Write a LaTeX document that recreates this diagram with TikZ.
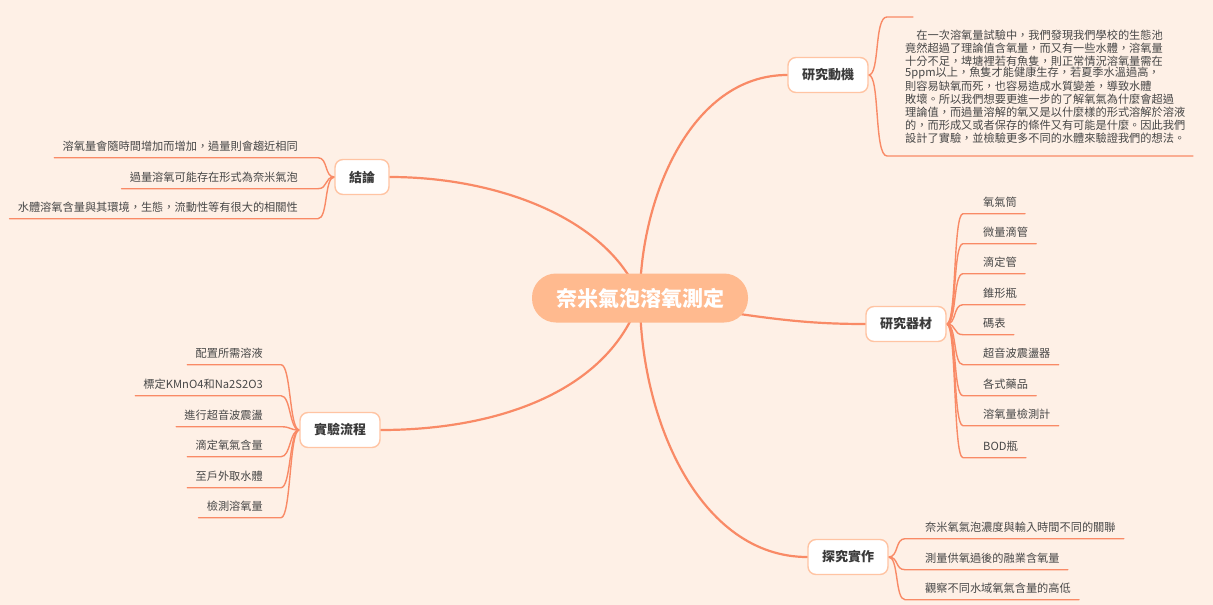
\documentclass[tikz,border=0pt]{standalone}
\usepackage{fontspec}
\setmainfont{Noto Sans CJK TC}
\usetikzlibrary{calc}
\definecolor{bgc}{HTML}{FEF0E6}
\definecolor{linec}{HTML}{F98A66}
\definecolor{borderc}{HTML}{FFC4A3}
\definecolor{rootc}{HTML}{FFBA8F}
\definecolor{txtc}{HTML}{3A3A3A}
\definecolor{leafc}{HTML}{474747}
\pgfdeclarelayer{bg}
\pgfdeclarelayer{edges}
\pgfsetlayers{bg,edges,main}
\tikzset{
  rootnode/.style={fill=rootc, rounded corners=24pt, minimum width=216pt, minimum height=49pt,
    text=white, font=\fontsize{21}{24}\selectfont\bfseries, inner sep=0pt},
  branchnode/.style={fill=white, draw=borderc, line width=1.4pt, rounded corners=8pt,
    minimum height=35pt, inner xsep=14pt, inner ysep=0pt, text=txtc,
    font=\fontsize{13}{15}\selectfont\bfseries},
  leaf/.style={text=leafc, font=\fontsize{11.2}{13}\selectfont, inner xsep=8pt, inner ysep=0pt,
    minimum height=23pt},
  para/.style={text=leafc, font=\fontsize{11.2}{13}\selectfont, inner sep=0pt},
  mainline/.style={draw=linec, line width=2.2pt, line cap=round},
  twig/.style={draw=linec, line width=1.4pt, line cap=round},
}
\begin{document}
\begin{tikzpicture}[x=1pt,y=-1pt]
\begin{pgfonlayer}{bg}
\fill[bgc] (0,0) rectangle (1213,605);
\end{pgfonlayer}
\useasboundingbox (0,0) rectangle (1213,605);

% root and branches
\node[rootnode] (root) at (640,298) {奈米氣泡溶氧測定};
\node[branchnode] (mot) at (828,75) {研究動機};
\node[branchnode] (mat) at (906,324) {研究器材};
\node[branchnode] (inq) at (848,557) {探究實作};
\node[branchnode] (con) at (362,177) {結論};
\node[branchnode] (exp) at (340,430) {實驗流程};

\begin{pgfonlayer}{edges}
\draw[mainline] (root.center) .. controls (640,200) and (690,75) .. (mot.west);
\draw[mainline] (root.center) .. controls (760,318) and (800,324) .. (mat.west);
\draw[mainline] (root.center) .. controls (640,420) and (700,557) .. (inq.west);
\draw[mainline] (root.center) .. controls (610,220) and (500,177) .. (con.east);
\draw[mainline] (root.center) .. controls (610,390) and (500,430) .. (exp.east);
\end{pgfonlayer}

% motivation paragraph
\node[para, anchor=west] (p1) at (905,35) {　在一次溶氧量試驗中，我們發現我們學校的生態池};
\node[para, anchor=west] (p2) at (905,48) {竟然超過了理論值含氧量，而又有一些水體，溶氧量};
\node[para, anchor=west] (p3) at (905,61) {十分不足，埤塘裡若有魚隻，則正常情況溶氧量需在};
\node[para, anchor=west] (p4) at (905,73) {5ppm以上，魚隻才能健康生存，若夏季水溫過高，};
\node[para, anchor=west] (p5) at (905,86) {則容易缺氧而死，也容易造成水質變差，導致水體};
\node[para, anchor=west] (p6) at (905,99) {敗壞。所以我們想要更進一步的了解氧氣為什麼會超過};
\node[para, anchor=west] (p7) at (905,112) {理論值，而過量溶解的氧又是以什麼樣的形式溶解於溶液};
\node[para, anchor=west] (p8) at (905,125) {的，而形成又或者保存的條件又有可能是什麼。因此我們};
\node[para, anchor=west] (p9) at (905,138) {設計了實驗，並檢驗更多不同的水體來驗證我們的想法。};
\coordinate (mtop) at (913,17);
\coordinate (mbot) at (1193,156);
\begin{pgfonlayer}{edges}
\draw[twig] (mot.east) .. controls (880,75) and (874,17) .. (887,17) -- (mtop);
\draw[twig] (mot.east) .. controls (880,75) and (874,156) .. (887,156) -- (mbot);
\end{pgfonlayer}

% materials
\foreach \i/\y/\t in {1/202/氧氣筒, 2/232/微量滴管, 3/262/滴定管, 4/293/錐形瓶, 5/323/碼表,
  6/353/超音波震盪器, 7/384/各式藥品, 8/414/溶氧量檢測計, 9/446/BOD瓶}{
  \node[leaf, anchor=west] (m\i) at (975,\y) {\t};
  \begin{pgfonlayer}{edges}
  \draw[twig] (mat.east) .. controls ($(mat.east)+(10,0)$) and ($(m\i.south west)+(-22,0)$)
    .. ($(m\i.south west)+(-12,0)$) -- (m\i.south east);
  \end{pgfonlayer}
}

% inquiry
\foreach \i/\y/\t in {1/527/奈米氧氣泡濃度與輸入時間不同的關聯, 2/558/測量供氧過後的融業含氧量,
  3/588/觀察不同水域氧氣含量的高低}{
  \node[leaf, anchor=west] (q\i) at (917,\y) {\t};
  \begin{pgfonlayer}{edges}
  \draw[twig] (inq.east) .. controls ($(inq.east)+(10,0)$) and ($(q\i.south west)+(-22,0)$)
    .. ($(q\i.south west)+(-12,0)$) -- (q\i.south east);
  \end{pgfonlayer}
}

% conclusions
\foreach \i/\y/\t in {1/146/溶氧量會隨時間增加而增加，過量則會趨近相同, 2/177/過量溶氧可能存在形式為奈米氣泡,
  3/207/水體溶氧含量與其環境，生態，流動性等有很大的相關性}{
  \node[leaf, anchor=east] (c\i) at (306,\y) {\t};
  \begin{pgfonlayer}{edges}
  \draw[twig] (con.west) .. controls ($(con.west)+(-10,0)$) and ($(c\i.south east)+(22,0)$)
    .. ($(c\i.south east)+(12,0)$) -- (c\i.south west);
  \end{pgfonlayer}
}

% experiment procedure
\foreach \i/\y/\t in {1/353/配置所需溶液, 2/384/標定KMnO4和Na2S2O3, 3/415/進行超音波震盪,
  4/445/滴定氧氣含量, 5/476/至戶外取水體, 6/506/檢測溶氧量}{
  \node[leaf, anchor=east] (e\i) at (271,\y) {\t};
  \begin{pgfonlayer}{edges}
  \draw[twig] (exp.west) .. controls ($(exp.west)+(-10,0)$) and ($(e\i.south east)+(20,0)$)
    .. ($(e\i.south east)+(10,0)$) -- (e\i.south west);
  \end{pgfonlayer}
}
\end{tikzpicture}
\end{document}
